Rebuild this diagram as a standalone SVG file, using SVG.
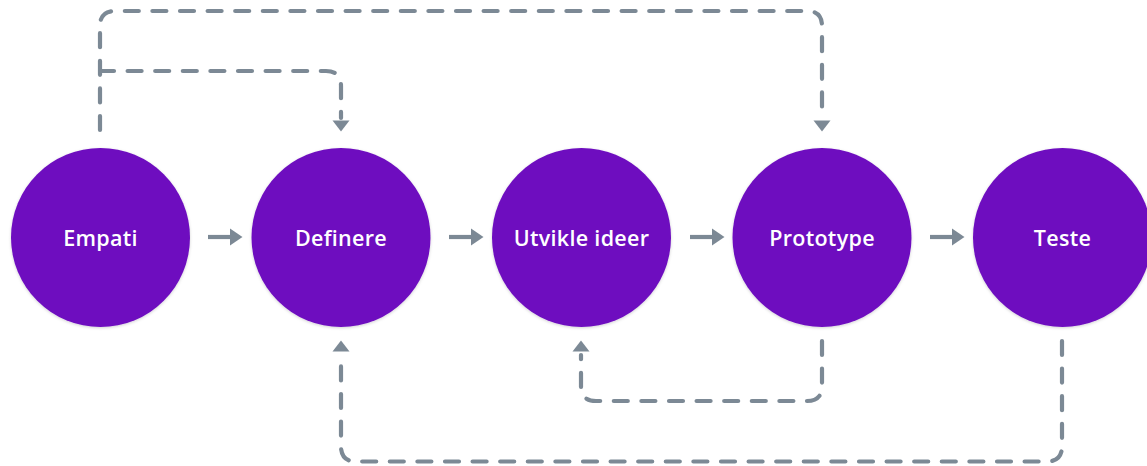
<svg xmlns="http://www.w3.org/2000/svg" width="1147" height="466" viewBox="0 0 1147 466">
  <style>
    .node circle { fill: #6e10bf; filter: url(#soft); }
    .node text { fill: #ffffff; font-family: "Open Sans", "Noto Sans", sans-serif; font-weight: 600; font-size: 21.5px; letter-spacing: 0.3px; text-anchor: middle; }
    .flow { stroke: #7c8995; stroke-width: 4.2; fill: none; }
    .loop { stroke: #7c8995; stroke-width: 4.2; fill: none; stroke-dasharray: 14 13.6; stroke-linecap: round; }
    .head { fill: #7c8995; }
  </style>
  <defs>
    <filter id="soft" x="-20%" y="-20%" width="140%" height="140%">
      <feDropShadow dx="0" dy="1" stdDeviation="1.5" flood-color="#000" flood-opacity="0.18"/>
    </filter>
  </defs>
  <rect width="1147" height="466" fill="#ffffff"/>

  <!-- connectors -->
  <g id="connectors">
    <!-- forward arrows between stages -->
    <g>
      <line class="flow" x1="208" y1="237" x2="232" y2="237"/>
      <polygon class="head" points="230,228.5 242.5,237 230,245.5"/>
      <line class="flow" x1="449" y1="237" x2="473" y2="237"/>
      <polygon class="head" points="471,228.5 483.5,237 471,245.5"/>
      <line class="flow" x1="690" y1="237" x2="714" y2="237"/>
      <polygon class="head" points="712,228.5 724.5,237 712,245.5"/>
      <line class="flow" x1="930" y1="237" x2="954" y2="237"/>
      <polygon class="head" points="952,228.5 964.5,237 952,245.5"/>
    </g>
    <!-- Empati back up to Prototype and Definere -->
    <path class="loop" d="M100,130 V26 Q100,11 115,11 H807 Q822,11 822,26 V118"/>
    <polygon class="head" points="813.5,120.5 830.5,120.5 822,131.5"/>
    <path class="loop" d="M100,71 H326 Q341,71 341,86 V118"/>
    <polygon class="head" points="332.5,120.5 349.5,120.5 341,131.5"/>
    <!-- Prototype back to Utvikle ideer -->
    <path class="loop" d="M822,341 V386 Q822,401 807,401 H596 Q581,401 581,386 V355"/>
    <polygon class="head" points="572.5,351.5 589.5,351.5 581,340.5"/>
    <!-- Teste back to Definere -->
    <path class="loop" d="M1062,341 V446 Q1062,461.5 1047,461.5 H356 Q341,461.5 341,446 V355"/>
    <polygon class="head" points="332.5,351.5 349.5,351.5 341,340.5"/>
  </g>

  <!-- stages -->
  <g id="empati" class="node">
    <circle cx="100.5" cy="237.5" r="89.5"/>
    <text x="100.5" y="245.5">Empati</text>
  </g>
  <g id="definere" class="node">
    <circle cx="341" cy="237.5" r="89.5"/>
    <text x="341" y="245.5">Definere</text>
  </g>
  <g id="utvikle-ideer" class="node">
    <circle cx="581.5" cy="237.5" r="89.5"/>
    <text x="581.5" y="245.5">Utvikle ideer</text>
  </g>
  <g id="prototype" class="node">
    <circle cx="822" cy="237.5" r="89.5"/>
    <text x="822" y="245.5">Prototype</text>
  </g>
  <g id="teste" class="node">
    <circle cx="1062.5" cy="237.5" r="89.5"/>
    <text x="1062.5" y="245.5">Teste</text>
  </g>
</svg>
